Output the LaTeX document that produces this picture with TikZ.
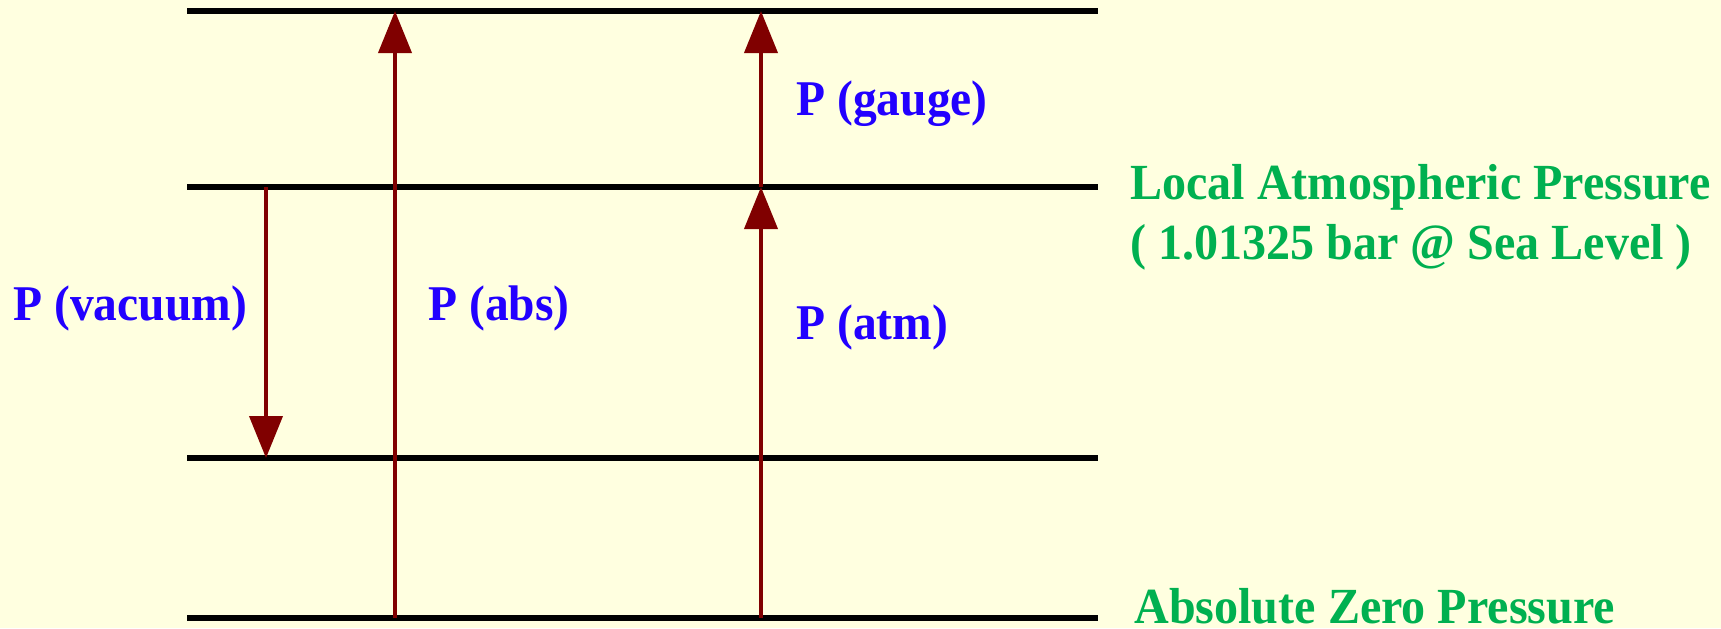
\documentclass[tikz,border=0pt]{standalone}
\usepackage{fontspec}
\setmainfont{Liberation Serif}[FakeStretch=0.95]
\usetikzlibrary{arrows.meta,positioning}
\definecolor{bgyellow}{RGB}{255,255,224}
\definecolor{lblblue}{RGB}{34,0,255}
\definecolor{lblgreen}{RGB}{0,176,80}
\definecolor{arrowred}{RGB}{128,0,0}
\tikzset{level/.style={line width=2.8pt,black},parrow/.style={line width=2pt,arrowred,-{Triangle[length=21pt,width=16.5pt]}},plbl/.style={text=lblblue,font=\fontsize{25}{30}\selectfont\bfseries,inner sep=0pt,anchor=west},reflbl/.style={text=lblgreen,font=\fontsize{25.3}{30}\selectfont\bfseries,inner sep=0pt,anchor=west}}

\begin{document}
\begin{tikzpicture}[x=0.5pt,y=-0.5pt]
\fill[bgyellow] (0,0) rectangle (1721,628);
\useasboundingbox (0,0) rectangle (1721,628);
% pressure levels
\coordinate (topL) at (187,11); \coordinate (topR) at (1098,11);
\coordinate (atmL) at (187,187); \coordinate (atmR) at (1098,187);
\coordinate (vacL) at (187,458); \coordinate (vacR) at (1098,458);
\coordinate (zeroL) at (187,618); \coordinate (zeroR) at (1098,618);
\draw[level] (topL)--(topR); \draw[level] (atmL)--(atmR); \draw[level] (vacL)--(vacR); \draw[level] (zeroL)--(zeroR);
% arrow ends
\coordinate (vacS) at (266,187); \coordinate (vacE) at (266,458);
\coordinate (absS) at (395,618); \coordinate (absE) at (395,11);
\coordinate (atmS) at (761,618); \coordinate (atmE) at (761,187); \coordinate (gaugeE) at (761,11);
\draw[parrow] (vacS)--(vacE); \draw[parrow] (absS)--(absE); \draw[parrow] (atmS)--(atmE); \draw[parrow] (atmE)--(gaugeE);
% labels
\node[plbl] (vaclbl) at (13,308) {P (vacuum)};
\node[plbl] (abslbl) at (428,308) {P (abs)};
\node[plbl] (atmlbl) at (796,327) {P (atm)};
\node[plbl] (gaugelbl) at (796,104) {P (gauge)};
\node[reflbl,right=16pt of atmR] (atmtxt) {Local Atmospheric Pressure};
\node[reflbl,below=30pt of atmtxt.west,anchor=west] (seatxt) {( 1.01325 bar @ Sea Level )};
\node[reflbl,right=18pt of zeroR,yshift=6pt] (zerotxt) {Absolute Zero Pressure};
\end{tikzpicture}
\end{document}
